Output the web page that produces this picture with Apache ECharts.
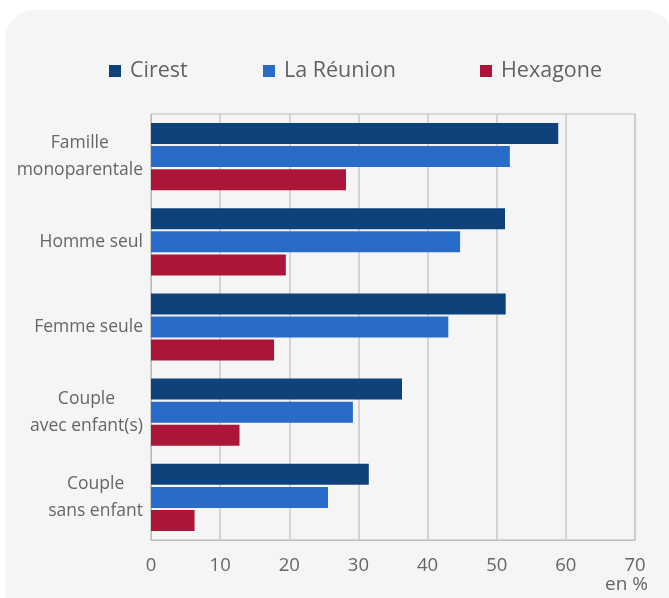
<!DOCTYPE html>
<html>
<head>
<meta charset="utf-8">
<script src="https://cdn.jsdelivr.net/npm/echarts@6/dist/echarts.min.js"></script>
<style>
  html, body { margin: 0; padding: 0; background: #ffffff; }
  #chart { width: 669px; height: 598px; }
</style>
</head>
<body>
<div id="chart"></div>
<script>
  // categories, top to bottom
  var categories = ['Famille\nmonoparentale', 'Homme seul', 'Femme seule', 'Couple\navec enfant(s)', 'Couple\nsans enfant'];
  var seriesNames = ['Cirest', 'La Réunion', 'Hexagone'];
  var cirest = [58.9, 51.2, 51.3, 36.3, 31.5];
  var reunion = [51.9, 44.7, 43.0, 29.2, 25.6];
  var hexagone = [28.2, 19.5, 17.8, 12.8, 6.3];
  var colors = ['#0f427b', '#296bc9', '#ab1538'];
  var legendLeft = [109, 263, 480];

  var font = '"Open Sans", "Noto Sans", sans-serif';
  var myChart = echarts.init(document.getElementById('chart'));

  var values = [cirest, reunion, hexagone];
  var series = seriesNames.map(function (name, i) {
    return {
      name: name,
      type: 'bar',
      data: values[i],
      barWidth: 21,
      barGap: '10%',
      itemStyle: { color: colors[i] },
      silent: true
    };
  });

  // one legend per item so each sits where the reference has it
  var legends = seriesNames.map(function (name, i) {
    return {
      left: legendLeft[i],
      top: 60,
      padding: 0,
      itemWidth: 12,
      itemHeight: 12,
      icon: 'rect',
      selectedMode: false,
      data: [name],
      textStyle: { fontSize: 21.5, color: '#626262', padding: [0, 0, 0, 4], fontFamily: font }
    };
  });

  myChart.setOption({
    animation: false,
    backgroundColor: '#ffffff',
    textStyle: { fontFamily: font },
    graphic: [
      {
        type: 'rect',
        z: -10,
        shape: { x: 5, y: 10, width: 669, height: 600, r: [30, 30, 0, 0] },
        style: { fill: '#f5f5f5' }
      },
      {
        type: 'text',
        right: 21,
        top: 575,
        style: { text: 'en %', font: '19px ' + font, fill: '#666666' }
      }
    ],
    legend: legends,
    grid: {
      left: 151,
      right: 34,
      top: 114,
      bottom: 58,
      show: true,
      borderColor: '#bcbcbc',
      borderWidth: 1,
      containLabel: false
    },
    xAxis: {
      type: 'value',
      min: 0,
      max: 70,
      interval: 10,
      axisLine: { show: true, lineStyle: { color: '#bcbcbc' } },
      axisTick: { show: false },
      splitLine: { show: true, lineStyle: { color: '#c8c8c8', width: 1.5 } },
      axisLabel: { color: '#666666', fontSize: 18.5, margin: 16, fontFamily: font }
    },
    yAxis: {
      type: 'category',
      inverse: true,
      data: categories,
      axisLine: { show: true, lineStyle: { color: '#bcbcbc' } },
      axisTick: { show: false },
      axisLabel: {
        color: '#666666', fontSize: 17.5, lineHeight: 27, margin: 8, fontFamily: font,
        // lines centred on each other, block right-aligned against the axis
        formatter: function (v) {
          return v.split('\n').map(function (s) { return '{c|' + s + '}'; }).join('\n');
        },
        rich: {
          c: { align: 'center', color: '#666666', fontSize: 17.5, lineHeight: 27, fontFamily: font }
        }
      }
    },
    series: series
  });
</script>
</body>
</html>
